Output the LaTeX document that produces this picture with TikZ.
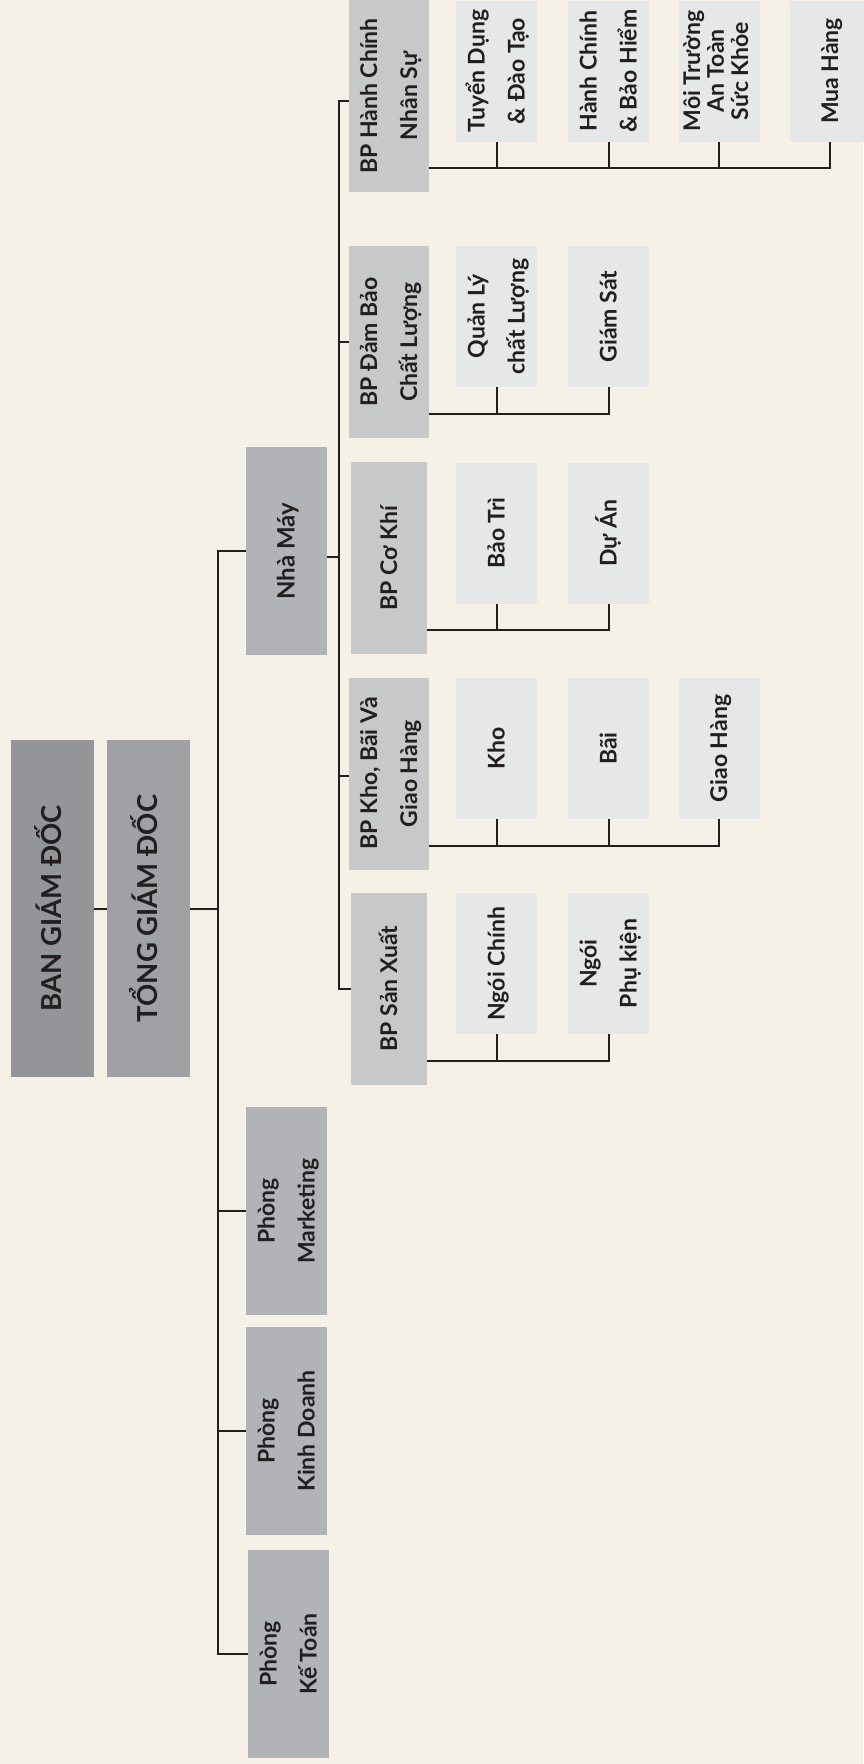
\documentclass[tikz,border=0pt]{standalone}
\usepackage{fontspec}
\setmainfont{Lato}
\definecolor{bgc}{HTML}{F5F1E7}
\definecolor{ink}{HTML}{231F20}
\definecolor{gA}{HTML}{939598}
\definecolor{gB}{HTML}{A0A1A4}
\definecolor{gC}{HTML}{B1B3B6}
\definecolor{gD}{HTML}{C7C8CA}
\definecolor{gE}{HTML}{E6E7E8}
\newcommand{\vt}[1]{\rotatebox{90}{\begin{tabular}{@{}c@{}}#1\end{tabular}}}
\tikzset{
  box/.style={rectangle, inner sep=0pt, outer sep=0pt, text=ink},
  topbox/.style={box, minimum width=83, minimum height=337, font=\bfseries\fontsize{27.5}{32}\selectfont},
  dept/.style={box, fill=gC, minimum width=81, minimum height=208, font=\bfseries\fontsize{23}{40}\selectfont},
  bpbox/.style={box, fill=gD, minimum width=76, minimum height=192, font=\bfseries\fontsize{23}{40}\selectfont},
  leaf/.style={box, fill=gE, minimum width=81, minimum height=141, font=\bfseries\fontsize{23}{40}\selectfont},
  conn/.style={draw=ink, line width=2pt, line join=miter}
}
\begin{document}
\begin{tikzpicture}[x=1pt, y=-1pt]
\fill[bgc] (0,0) rectangle (863,1764);
\useasboundingbox (0,0) rectangle (863,1764);

% top level
\node[topbox, fill=gA] (bgd) at (52.5,908.5) {\vt{BAN GIÁM ĐỐC}};
\node[topbox, fill=gB] (tgd) at (148.5,908.5) {\vt{TỔNG GIÁM ĐỐC}};

% departments
\node[dept, font=\bfseries\fontsize{24}{40}\selectfont] (nm) at (286.5,551) {\vt{Nhà Máy}};
\node[dept] (mkt) at (286.5,1211) {\vt{Phòng\\Marketing}};
\node[dept] (kd) at (286.5,1431) {\vt{Phòng\\Kinh Doanh}};
\node[dept] (kt) at (288.5,1654) {\vt{Phòng\\Kế Toán}};

% BP boxes
\node[bpbox] (hc) at (389,96) {\vt{BP Hành Chính\\Nhân Sự}};
\node[bpbox] (db) at (389,342) {\vt{BP Đảm Bảo\\Chất Lượng}};
\node[bpbox] (ck) at (389,558) {\vt{BP Cơ Khí}};
\node[bpbox] (kh) at (389,773.5) {\vt{BP Kho, Bãi Và\\Giao Hàng}};
\node[bpbox] (sx) at (389,988.5) {\vt{BP Sản Xuất}};

% leaves: Hanh Chinh
\node[leaf] (hc1) at (496.5,71) {\vt{Tuyển Dụng\\\& Đào Tạo}};
\node[leaf] (hc2) at (608.5,71) {\vt{Hành Chính\\\& Bảo Hiểm}};
\node[leaf, font=\bfseries\fontsize{23}{23}\selectfont] (hc3) at (719,71) {\vt{Môi Trường\\An Toàn\\Sức Khỏe}};
\node[leaf] (hc4) at (830,71) {\vt{Mua Hàng}};
% Dam Bao
\node[leaf] (db1) at (496.5,316.5) {\vt{Quản Lý\\chất Lượng}};
\node[leaf] (db2) at (608.5,316.5) {\vt{Giám Sát}};
% Co Khi
\node[leaf] (ck1) at (496.5,533) {\vt{Bảo Trì}};
\node[leaf] (ck2) at (608.5,533) {\vt{Dự Án}};
% Kho
\node[leaf] (kh1) at (496.5,748.5) {\vt{Kho}};
\node[leaf] (kh2) at (608.5,748.5) {\vt{Bãi}};
\node[leaf] (kh3) at (719,748.5) {\vt{Giao Hàng}};
% San Xuat
\node[leaf] (sx1) at (496.5,963.5) {\vt{Ngói Chính}};
\node[leaf] (sx2) at (608.5,963.5) {\vt{Ngói\\Phụ kiện}};

% coordinates for trunks
\coordinate (trA) at (218,908.5);
\coordinate (trB) at (339,557);

% connectors top
\draw[conn] (bgd.east) -- (tgd.west);
\draw[conn] (tgd.east) -- (trA);
\draw[conn] (nm.west) -| (trA) |- (kt.west);
\draw[conn] (mkt.west) -- (mkt.west -| trA);
\draw[conn] (kd.west) -- (kd.west -| trA);

% Nha May trunk
\draw[conn] ([yshift=-6pt]nm.east) -- (trB);
\draw[conn] ([yshift=-5pt]hc.west) -| (trB) |- (sx.west);
\draw[conn] (db.west) -- (db.west -| trB);
\draw[conn] ([yshift=-2pt]kh.west) -- ([yshift=-2pt]kh.west -| trB);

% buses
\coordinate (hcb) at ([yshift=24pt]hc.south east);
\draw[conn] (hcb) -| (hc4.south);
\draw[conn] (hc1.south) -- (hc1.south |- hcb);
\draw[conn] (hc2.south) -- (hc2.south |- hcb);
\draw[conn] (hc3.south) -- (hc3.south |- hcb);

\coordinate (dbb) at ([yshift=24pt]db.south east);
\draw[conn] (dbb) -| (db2.south);
\draw[conn] (db1.south) -- (db1.south |- dbb);

\coordinate (ckb) at ([yshift=24pt]ck.south east);
\draw[conn] (ckb) -| (ck2.south);
\draw[conn] (ck1.south) -- (ck1.south |- ckb);

\coordinate (khb) at ([yshift=24pt]kh.south east);
\draw[conn] (khb) -| (kh3.south);
\draw[conn] (kh1.south) -- (kh1.south |- khb);
\draw[conn] (kh2.south) -- (kh2.south |- khb);

\coordinate (sxb) at ([yshift=24pt]sx.south east);
\draw[conn] (sxb) -| (sx2.south);
\draw[conn] (sx1.south) -- (sx1.south |- sxb);
\end{tikzpicture}
\end{document}
